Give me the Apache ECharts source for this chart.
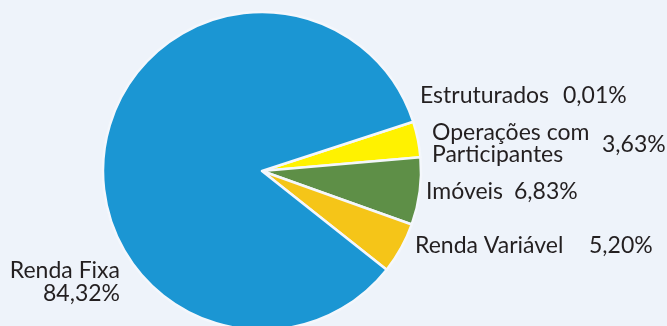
<!DOCTYPE html>
<html>
<head>
<meta charset="utf-8">
<script src="https://cdn.jsdelivr.net/npm/echarts@6/dist/echarts.min.js"></script>
<style>
  html, body { margin: 0; padding: 0; background: #eef3fa; }
  #chart { width: 667px; height: 326px; }
</style>
</head>
<body>
<div id="chart"></div>
<script>
  // dados da carteira (clockwise from the yellow slice's upper edge)
  const categories = ['Estruturados', 'Operações com\nParticipantes', 'Imóveis', 'Renda Variável', 'Renda Fixa']
  const percents = [0.01, 3.63, 6.83, 5.20, 84.32]
  const colors = ['#3d6ea8', '#fff200', '#5e8f47', '#f5c518', '#1b96d3']

  const fmt = v => v.toFixed(2).replace('.', ',') + '%'
  const font = '23px Lato, "Open Sans", sans-serif'
  const ink = '#231f20'

  // label placement, same order as categories
  const labelPos = [
    { name: [420, 96, 'left'], value: [563, 96, 'left'] },
    { name: [432, 144, 'left'], value: [602, 145, 'left'] },
    { name: [426, 192, 'left'], value: [514, 192, 'left'] },
    { name: [415, 246, 'left'], value: [589, 246, 'left'] },
    { name: [120, 271, 'right'], value: [120, 294, 'right'] },
  ]

  const texts = []
  categories.forEach((c, i) => {
    const p = labelPos[i]
    texts.push({
      type: 'text', silent: true,
      style: { x: p.name[0], y: p.name[1], text: c, textAlign: p.name[2], textVerticalAlign: 'middle',
        font: font, fill: ink, lineHeight: 22 }
    })
    texts.push({
      type: 'text', silent: true,
      style: { x: p.value[0], y: p.value[1], text: fmt(percents[i]), textAlign: p.value[2], textVerticalAlign: 'middle',
        font: font, fill: ink }
    })
  })

  const chart = echarts.init(document.getElementById('chart'))
  chart.setOption({
    backgroundColor: '#eef3fa',
    animation: false,
    graphic: texts,
    series: [{
      type: 'pie',
      center: [262, 171],
      radius: 159,
      startAngle: 18.05,
      clockwise: true,
      silent: true,
      label: { show: false },
      labelLine: { show: false },
      itemStyle: { borderColor: '#f4f7fc', borderWidth: 2.5 },
      data: categories.map((c, i) => ({ name: c, value: percents[i], itemStyle: { color: colors[i] } }))
    }]
  })
</script>
</body>
</html>
